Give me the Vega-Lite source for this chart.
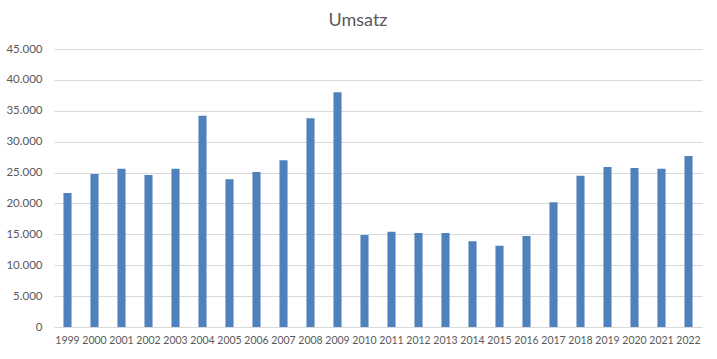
{
  "$schema": "https://vega.github.io/schema/vega-lite/v6.json",
  "width": 648,
  "height": 278,
  "autosize": "none",
  "padding": {"left": 54, "top": 49, "right": 15, "bottom": 32},
  "background": "white",
  "title": {
    "text": "Umsatz",
    "font": "Lato",
    "fontSize": 18,
    "fontWeight": "normal",
    "color": "#595959",
    "anchor": "middle",
    "dx": -20,
    "offset": 13
  },
  "data": {
    "values": [
      {"Jahr": "1999", "Umsatz": 21700},
      {"Jahr": "2000", "Umsatz": 24750},
      {"Jahr": "2001", "Umsatz": 25600},
      {"Jahr": "2002", "Umsatz": 24600},
      {"Jahr": "2003", "Umsatz": 25600},
      {"Jahr": "2004", "Umsatz": 34200},
      {"Jahr": "2005", "Umsatz": 23900},
      {"Jahr": "2006", "Umsatz": 25100},
      {"Jahr": "2007", "Umsatz": 27000},
      {"Jahr": "2008", "Umsatz": 33800},
      {"Jahr": "2009", "Umsatz": 38000},
      {"Jahr": "2010", "Umsatz": 14900},
      {"Jahr": "2011", "Umsatz": 15400},
      {"Jahr": "2012", "Umsatz": 15200},
      {"Jahr": "2013", "Umsatz": 15200},
      {"Jahr": "2014", "Umsatz": 13900},
      {"Jahr": "2015", "Umsatz": 13150},
      {"Jahr": "2016", "Umsatz": 14750},
      {"Jahr": "2017", "Umsatz": 20200},
      {"Jahr": "2018", "Umsatz": 24500},
      {"Jahr": "2019", "Umsatz": 25900},
      {"Jahr": "2020", "Umsatz": 25750},
      {"Jahr": "2021", "Umsatz": 25600},
      {"Jahr": "2022", "Umsatz": 27700}
    ]
  },
  "mark": {"type": "bar", "color": "#4F81BD"},
  "encoding": {
    "x": {
      "field": "Jahr",
      "type": "ordinal",
      "sort": null,
      "scale": {"paddingInner": 0.7, "paddingOuter": 0.35},
      "axis": {
        "title": null,
        "labelAngle": 0,
        "ticks": false,
        "domain": true,
        "domainColor": "#D9D9D9",
        "labelFont": "Lato",
        "labelFontSize": 10.5,
        "labelColor": "#595959",
        "labelPadding": 8
      }
    },
    "y": {
      "field": "Umsatz",
      "type": "quantitative",
      "scale": {"domain": [0, 45000], "nice": false},
      "axis": {
        "title": null,
        "values": [0, 5000, 10000, 15000, 20000, 25000, 30000, 35000, 40000, 45000],
        "labelExpr": "replace(format(datum.value, ','), ',', '.')",
        "ticks": false,
        "domain": false,
        "grid": true,
        "gridColor": "#D9D9D9",
        "labelFont": "Lato",
        "labelFontSize": 11.5,
        "labelColor": "#595959",
        "labelPadding": 12
      }
    }
  },
  "config": {"view": {"stroke": null}}
}
